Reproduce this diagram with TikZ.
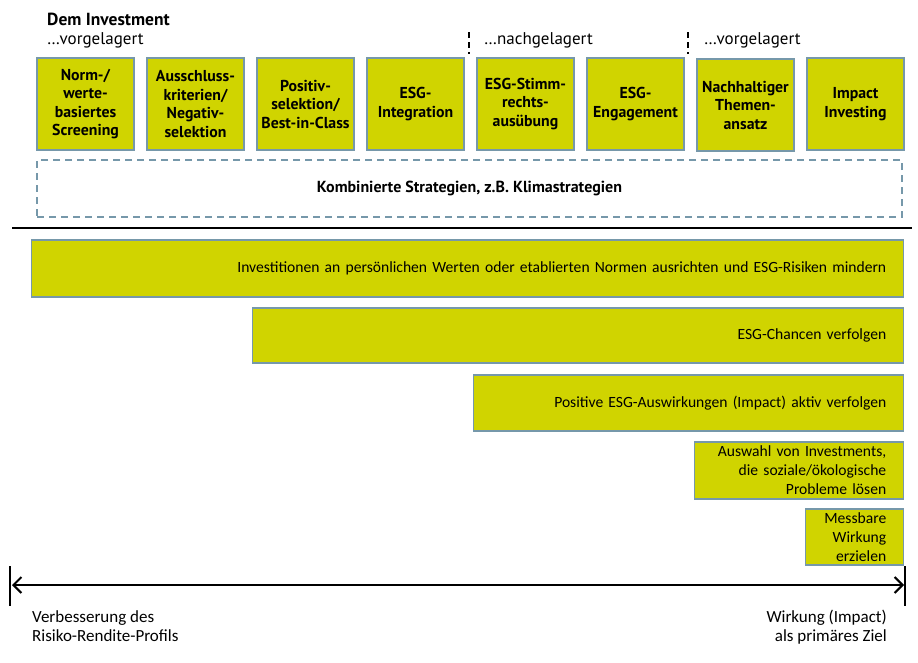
\documentclass[tikz,border=0pt]{standalone}
\usepackage{fontspec}
\setmainfont{Carlito}
\newfontfamily\headfont{PT Sans}
\usetikzlibrary{arrows.meta}
\definecolor{esggreen}{RGB}{208,212,0}
\definecolor{esgframe}{RGB}{118,152,170}

\begin{document}
\begin{tikzpicture}
[x=1pt, y=-1pt, every node/.style={inner sep=0pt},
 strat/.style={rectangle, fill=esggreen, draw=esgframe, line width=1.5pt, minimum width=97pt, minimum height=92pt, align=center, font=\headfont\bfseries\fontsize{15.8}{18.5}\selectfont},
 headtxt/.style={anchor=west, font=\headfont\fontsize{17}{20}\selectfont},
 bar/.style={rectangle, fill=esggreen, draw=esgframe, line width=1.5pt, anchor=north east, align=right, inner xsep=17pt, font=\fontsize{15.6}{19}\selectfont},
 axtxt/.style={align=left, font=\fontsize{17}{19}\selectfont}]
\useasboundingbox (0,0) rectangle (918,662);
% header
\node (dem) [headtxt, font=\headfont\bfseries\fontsize{17.5}{20}\selectfont] at (47,19) {Dem Investment};
\node (vor1) [headtxt] at (47,40) {\dots vorgelagert};
\node (nach) [headtxt] at (484,40) {\dots nachgelagert};
\node (vor2) [headtxt] at (704,40) {\dots vorgelagert};
\coordinate (sepA) at (469,32);
\coordinate (sepB) at (688,32);
\draw [line width=1.5pt, dash pattern=on 6pt off 4pt] (sepA) -- ++(0,22);
\draw [line width=1.5pt, dash pattern=on 6pt off 4pt] (sepB) -- ++(0,22);
% strategies
\node (s1) [strat] at (85.5,104) {Norm-/\\werte-\\basiertes\\Screening};
\node (s2) [strat] at (195.5,104) {Ausschluss-\\kriterien/\\Negativ-\\selektion};
\node (s3) [strat] at (305.5,104) {Positiv-\\selektion/\\Best-in-Class};
\node (s4) [strat] at (415.5,104) {ESG-\\Integration};
\node (s5) [strat] at (525.5,104) {ESG-Stimm-\\rechts-\\aus\"ubung};
\node (s6) [strat] at (635.5,104) {ESG-\\Engagement};
\node (s7) [strat] at (745.5,105) {Nachhaltiger\\Themen-\\ansatz};
\node (s8) [strat] at (855.5,104) {Impact\\Investing};
\node (komb) [rectangle, draw=esgframe, line width=1.5pt, dash pattern=on 7pt off 5pt, minimum width=865pt, minimum height=57pt, font=\headfont\bfseries\fontsize{16}{18}\selectfont] at (469.5,188.5) {Kombinierte Strategien, z.B. Klimastrategien};
\draw [line width=2pt] (12,228) -- (912,228);
% objectives
\node (b1) [bar, text width=838pt, minimum height=57pt] at (904,239) {Investitionen an pers\"onlichen Werten oder etablierten Normen ausrichten und ESG-Risiken mindern};
\node (b2) [bar, text width=617pt, minimum height=55pt] at (904,307) {ESG-Chancen verfolgen};
\node (b3) [bar, text width=396pt, minimum height=56pt] at (904,374) {Positive ESG-Auswirkungen (Impact) aktiv verfolgen};
\node (b4) [bar, text width=175pt, minimum height=57pt] at (904,441) {Auswahl von Investments,\\die soziale/\"okologische\\Probleme l\"osen};
\node (b5) [bar, text width=64pt, minimum height=56pt] at (904,508) {Messbare\\Wirkung\\erzielen};
% axis
\coordinate (axL) at (12,585);
\coordinate (axR) at (904,585);
\draw [line width=2pt, {Straight Barb[length=8pt,width=16pt]}-{Straight Barb[length=8pt,width=16pt]}] (axL) -- (axR);
\draw [line width=2pt] (10,566) -- (10,606);
\draw [line width=2pt] (905,566) -- (905,606);
\node (lft) [axtxt, anchor=north west] at (32,610) {Verbesserung des\\Risiko-Rendite-Profils};
\node (rgt) [axtxt, anchor=north east, align=right] at (887,610) {Wirkung (Impact)\\als prim\"ares Ziel};
\end{tikzpicture}
\end{document}
